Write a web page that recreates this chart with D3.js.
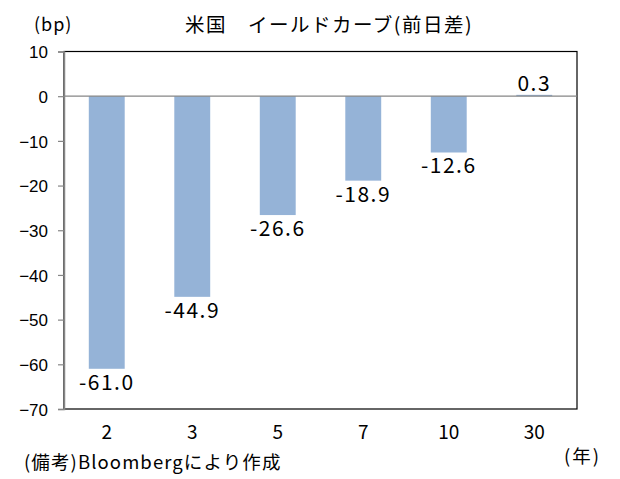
<!DOCTYPE html>
<html><head><meta charset="utf-8">
<script src="https://cdn.jsdelivr.net/npm/d3@7"></script>
<style>body{margin:0;background:#fff}</style>
</head><body>
<svg id="c" width="620" height="479"></svg>
<script>
const categories = ["2","3","5","7","10","30"];
const values = [-61.0,-44.9,-26.6,-18.9,-12.6,0.3];
const labels = ["-61.0","-44.9","-26.6","-18.9","-12.6","0.3"];
const yTicks = [10,0,-10,-20,-30,-40,-50,-60,-70];
const title = "米国　イールドカーブ(前日差)";
const yUnit = "(bp)";
const xUnit = "(年)";
const note = "(備考)Bloombergにより作成";

const svg = d3.select("#c");
const L=64,R=577,T=51.5,B=409;
const y = d3.scaleLinear().domain([-70,10]).range([B,T]);
const x = d3.scaleBand().domain(categories).range([L,R]).paddingInner(0.58).paddingOuter(0.29);
const jp = "'Noto Sans CJK JP', sans-serif";

svg.append("rect").attr("x",L).attr("y",T).attr("width",R-L).attr("height",B-T)
  .attr("fill","none").attr("stroke","#000").attr("stroke-width",1.2);

svg.selectAll(".bar").data(values).join("rect")
  .attr("x",(d,i)=>x(categories[i]))
  .attr("width",x.bandwidth())
  .attr("y",d=>Math.min(y(d),y(0)))
  .attr("height",d=>Math.abs(y(d)-y(0)))
  .attr("fill","#95b3d7");

svg.append("line").attr("x1",L).attr("x2",R).attr("y1",y(0)).attr("y2",y(0))
  .attr("stroke","#868686").attr("stroke-width",1.2);

const ya = svg.append("g").attr("transform",`translate(${L},0)`)
  .call(d3.axisLeft(y).tickValues(yTicks).tickSize(6).tickPadding(8).tickFormat(d3.format("d")));
ya.select(".domain").attr("stroke","#868686").attr("stroke-width",1.5);
ya.selectAll(".tick line").attr("stroke","#868686").attr("stroke-width",1.2);
ya.selectAll(".tick text").attr("font-family","'Liberation Sans', Arial, sans-serif").attr("font-size",17).attr("fill","#000").attr("dy","0.36em").attr("x",-16);

const xa = svg.append("g").attr("transform",`translate(0,${B})`)
  .call(d3.axisBottom(x).tickSize(0).tickPadding(17));
xa.select(".domain").remove();
xa.selectAll(".tick text").attr("font-family",jp).attr("font-size",19).attr("fill","#000");

svg.selectAll(".lbl").data(values).join("text")
  .attr("x",(d,i)=>x(categories[i])+x.bandwidth()/2)
  .attr("y",d=> d<0 ? y(d)+21 : y(d)-4)
  .attr("text-anchor","middle")
  .attr("font-family",jp).attr("font-size",21).attr("letter-spacing",1.5)
  .text((d,i)=>labels[i]);

svg.append("text").attr("x",329).attr("y",32).attr("text-anchor","middle")
  .attr("font-family",jp).attr("font-size",19.5).attr("letter-spacing",1.5).text(title);
svg.append("text").attr("x",34).attr("y",31)
  .attr("font-family",jp).attr("font-size",18).attr("letter-spacing",1).text(yUnit);
svg.append("text").attr("x",564).attr("y",463)
  .attr("font-family",jp).attr("font-size",18.5).attr("letter-spacing",2).text(xUnit);
svg.append("text").attr("x",24).attr("y",469)
  .attr("font-family",jp).attr("font-size",18.5).attr("letter-spacing",1.1).text(note);
</script>
</body></html>
